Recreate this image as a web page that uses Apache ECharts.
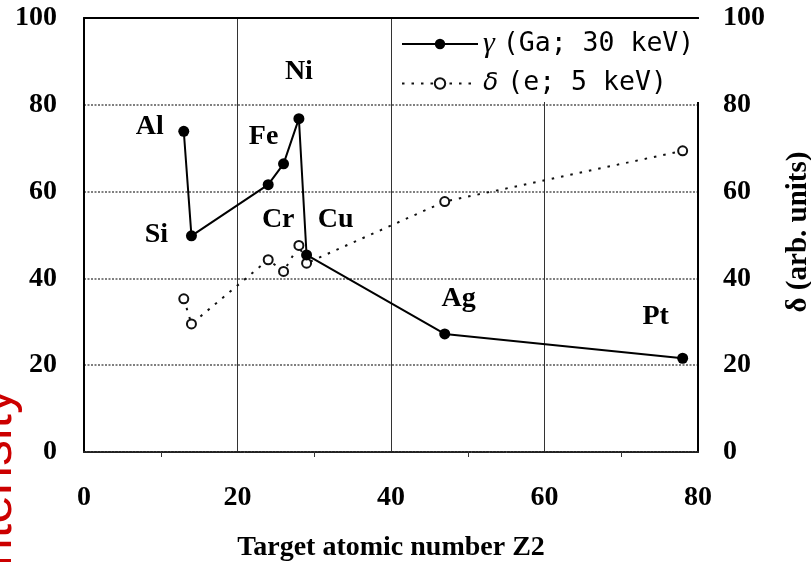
<!DOCTYPE html>
<html>
<head>
<meta charset="utf-8">
<script src="https://cdn.jsdelivr.net/npm/echarts@6/dist/echarts.min.js"></script>
<style>
html,body{margin:0;padding:0;background:#fff;}
#chart{width:811px;height:562px;}
</style>
</head>
<body>
<div id="chart"></div>
<script>
// ---- data ----
var elements = ['Al', 'Si', 'Cr', 'Fe', 'Ni', 'Cu', 'Ag', 'Pt'];
var atomicNumber = [13, 14, 24, 26, 28, 29, 47, 78];
var gammaValues = [73.9, 49.8, 61.6, 66.4, 76.8, 45.4, 27.2, 21.6];
var deltaValues = [35.3, 29.5, 44.3, 41.6, 47.6, 43.5, 57.7, 69.4];
var xTicks = [0, 20, 40, 60, 80];
var yTicks = [0, 20, 40, 60, 80, 100];

// label placement (pixels, relative to each gamma marker)
var labelOffset = {
  Al: [-34, -5], Si: [-35, -1], Cr: [10, 35], Fe: [-20, -27],
  Ni: [0, -47], Cu: [29, -35], Ag: [14, -35], Pt: [-27, -41]
};

var serifBold = { fontFamily: 'Liberation Serif', fontWeight: 'bold', fontSize: 28, color: '#000' };

var gammaData = elements.map(function (el, i) {
  return {
    name: el,
    value: [atomicNumber[i], gammaValues[i]],
    label: { show: true, position: 'inside', offset: labelOffset[el], formatter: el,
      fontFamily: 'Liberation Serif', fontWeight: 'bold', fontSize: 28, color: '#000' }
  };
});
var deltaData = elements.map(function (el, i) {
  return [atomicNumber[i], deltaValues[i]];
});

var chart = echarts.init(document.getElementById('chart'), null, { renderer: 'canvas' });
chart.setOption({
  backgroundColor: '#fff',
  animation: false,
  grid: { left: 84, right: 113, top: 18, bottom: 110, containLabel: false, outerBoundsMode: 'none' },
  legend: {
    orient: 'vertical',
    left: 392, top: 19,
    padding: [10, 8, 5, 9],
    backgroundColor: '#fff',
    itemWidth: 76, itemHeight: 13, itemGap: 11,
    formatter: function (name) {
      return name === 'γ' ? '{g|γ}{m|(Ga; 30 keV)}' : '{d|δ}{m|(e; 5 keV)}';
    },
    textStyle: {
      rich: {
        g: { fontFamily: 'Liberation Serif', fontStyle: 'italic', fontSize: 30, lineHeight: 28, color: '#000', padding: [0, 8, 0, 0] },
        d: { fontFamily: 'DejaVu Sans', fontStyle: 'italic', fontSize: 25, lineHeight: 28, color: '#000', padding: [0, 9, 0, 0] },
        m: { fontFamily: 'DejaVu Sans Mono', fontSize: 26.5, lineHeight: 28, color: '#000' }
      }
    },
    data: ['γ', 'δ']
  },
  xAxis: [{
    type: 'value', min: xTicks[0], max: xTicks[xTicks.length - 1], interval: 20,
    axisLine: { show: true, lineStyle: { color: '#222', width: 2, type: [2, 1.5] } },
    axisTick: { show: false },
    minorTick: { show: true, splitNumber: 2, length: 5, lineStyle: { color: '#333', width: 1 } },
    axisLabel: Object.assign({ margin: 32 }, serifBold),
    splitLine: { show: true, lineStyle: { color: '#333', width: 1, type: 'solid' } },
    name: 'Target atomic number Z2',
    nameLocation: 'middle', nameGap: 82,
    nameTextStyle: serifBold
  }, {
    type: 'value', position: 'top', min: 0, max: 80,
    axisLine: { show: true, onZero: false, lineStyle: { color: '#000', width: 2 } },
    axisTick: { show: false }, axisLabel: { show: false }, splitLine: { show: false }
  }],
  yAxis: [{
    type: 'value', min: yTicks[0], max: yTicks[yTicks.length - 1], interval: 20,
    axisLine: { show: true, onZero: false, lineStyle: { color: '#000', width: 2 } },
    axisTick: { show: false },
    axisLabel: Object.assign({ margin: 27 }, serifBold),
    splitLine: { show: true, lineStyle: { color: '#555', width: 1.5, type: [2, 1.5] } }
  }, {
    type: 'value', position: 'right', min: yTicks[0], max: yTicks[yTicks.length - 1], interval: 20,
    axisLine: { show: true, onZero: false, lineStyle: { color: '#000', width: 2 } },
    axisTick: { show: false },
    axisLabel: Object.assign({ margin: 25 }, serifBold),
    splitLine: { show: false }
  }],
  series: [{
    name: 'γ', type: 'line', xAxisIndex: 0, yAxisIndex: 0,
    data: gammaData,
    symbol: 'circle', symbolSize: 11,
    itemStyle: { color: '#000' },
    lineStyle: { color: '#000', width: 2 },
    z: 3
  }, {
    name: 'δ', type: 'line', xAxisIndex: 0, yAxisIndex: 1,
    data: deltaData,
    symbol: 'emptyCircle', symbolSize: 9,
    itemStyle: { color: '#111', borderWidth: 1.5 },
    lineStyle: { color: '#111', width: 2, type: [2.5, 7] },
    z: 2
  }],
  graphic: [{
    type: 'text', x: 799, y: 232, rotation: Math.PI / 2,
    style: { text: 'δ (arb. units)', fontFamily: 'Liberation Serif', fontWeight: 'bold', fontSize: 29,
      fill: '#000', align: 'center', verticalAlign: 'middle' }
  }, {
    type: 'text', x: -3, y: 388, rotation: Math.PI / 2,
    style: { text: 'Intensity', fontFamily: 'Liberation Sans', fontSize: 52,
      fill: '#cc0000', align: 'right', verticalAlign: 'middle' }
  }]
});
</script>
</body>
</html>
